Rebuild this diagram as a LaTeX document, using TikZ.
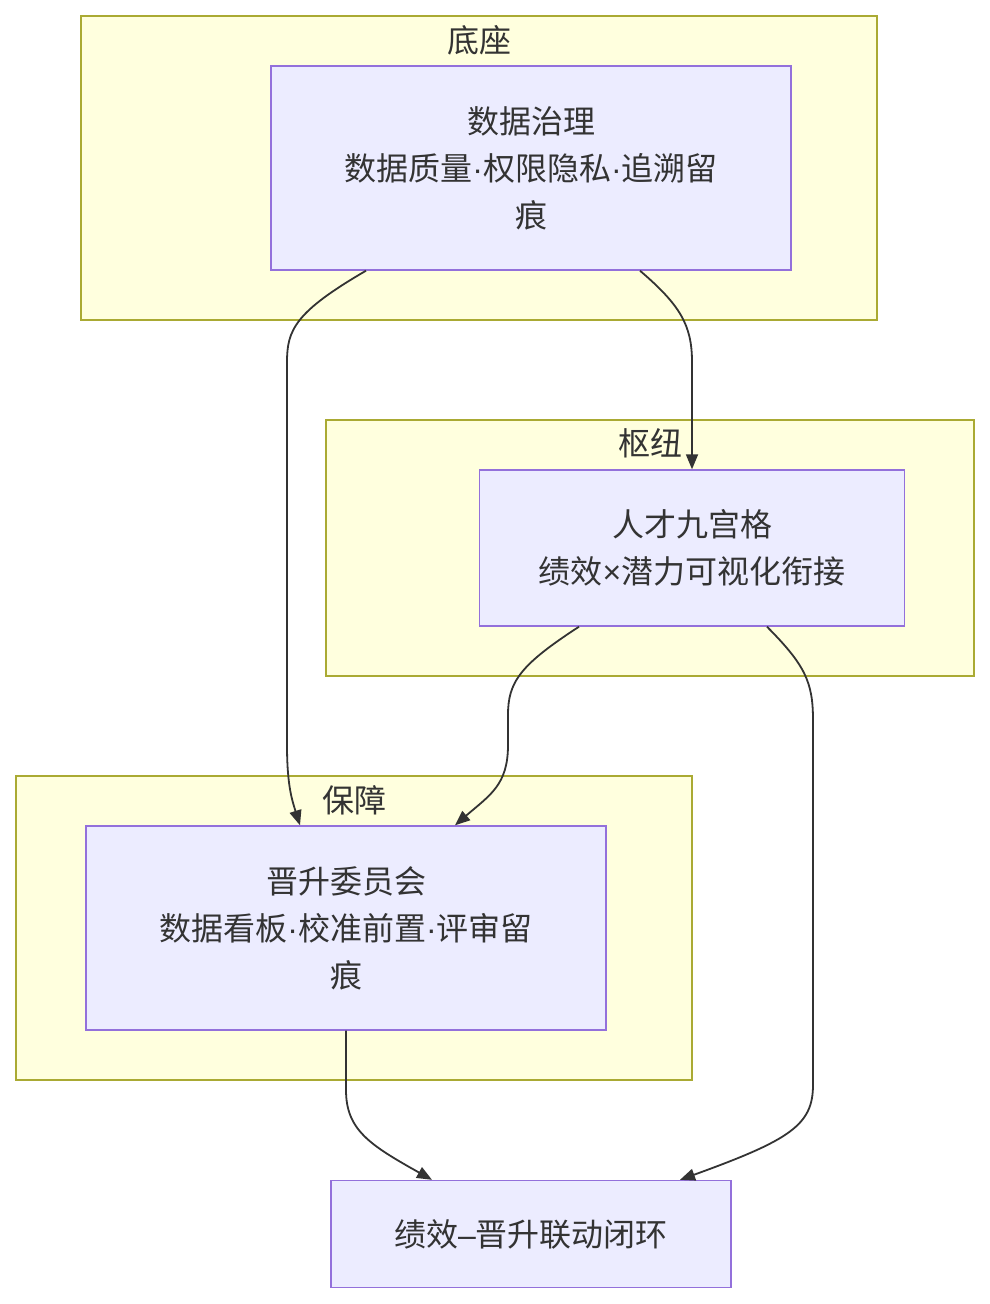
\documentclass[tikz,border=0pt]{standalone}
\usepackage{fontspec}
\newfontfamily\cjk{Noto Sans CJK SC}
\newfontfamily\latinpunct{Liberation Sans}
\usepackage{tikz}
\usetikzlibrary{
    positioning,
    arrows.meta
}
\definecolor{clusterfill}{HTML}{FFFFDE}
\definecolor{clusterline}{HTML}{AAAA33}
\definecolor{boxfill}{HTML}{ECECFF}
\definecolor{boxline}{HTML}{9370DB}
\definecolor{inkgray}{HTML}{333333}
\newcommand{\md}{{\latinpunct ·}}
\newcommand{\tm}{{\latinpunct ×}}
\newcommand{\nd}{{\latinpunct –}}

\begin{document}
\begin{tikzpicture}[
    x=1pt, y=-1pt,
    every node/.style={font=\cjk\fontsize{32}{47}\selectfont, text=inkgray},
    cluster/.style={rectangle, draw=clusterline, fill=clusterfill, line width=1.4pt, inner sep=0pt},
    caption/.style={inner sep=0pt, anchor=center},
    block/.style={rectangle, draw=boxline, fill=boxfill, line width=1.4pt, align=center, inner sep=0pt},
    arrow/.style={-{Triangle[length=15pt, width=12pt]}, draw=inkgray, line width=1.8pt}
]
\useasboundingbox (0,0) rectangle (990,1304);

% ================= GROUPS =================
\node[cluster, minimum width=796pt, minimum height=304pt] (base) at (479,168) {};
\node[caption] at (479,40) {底座};

\node[cluster, minimum width=648pt, minimum height=256pt] (hub) at (650,548) {};
\node[caption] at (650,443) {枢纽};

\node[cluster, minimum width=676pt, minimum height=304pt] (guard) at (354,928) {};
\node[caption] at (354,800) {保障};

% ================= NODES =================
\node[block, minimum width=520pt, minimum height=204pt] (gov) at (531,168)
    {数据治理\\数据质量\md 权限隐私\md 追溯留\\痕};
\node[block, minimum width=425pt, minimum height=156pt] (grid) at (692,548)
    {人才九宫格\\绩效\tm 潜力可视化衔接};
\node[block, minimum width=520pt, minimum height=204pt] (comm) at (346,928)
    {晋升委员会\\数据看板\md 校准前置\md 评审留\\痕};
\node[block, minimum width=400pt, minimum height=107pt] (loop) at (531,1234)
    {绩效\nd 晋升联动闭环};

% ================= ARROWS =================
\draw[arrow] ([xshift=-165pt]gov.south) .. controls (295,312) and (287,330) .. (287,362)
    -- (287,745) .. controls (287,785) and (292,800) .. ([xshift=-46pt]comm.north);
\draw[arrow] ([xshift=109pt]gov.south) .. controls (680,305) and (692,325) .. (692,362)
    -- (grid.north);

\draw[arrow] ([xshift=-113pt]grid.south) .. controls (520,665) and (508,682) .. (508,715)
    -- (508,745) .. controls (508,785) and (490,795) .. ([xshift=109pt]comm.north);
\draw[arrow] ([xshift=75pt]grid.south) .. controls (805,665) and (813,682) .. (813,720)
    -- (813,1085) .. controls (813,1125) and (790,1140) .. ([xshift=149pt]loop.north);

\draw[arrow] (comm.south) -- (346,1090) .. controls (346,1130) and (370,1145) .. ([xshift=-99pt]loop.north);

\end{tikzpicture}
\end{document}
